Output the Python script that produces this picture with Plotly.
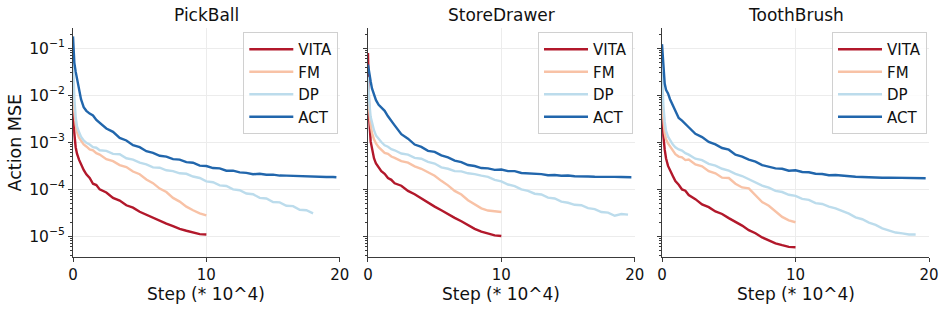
import plotly.graph_objects as go

# ---------------- data ----------------
STEPS = [0, 0.05, 0.1, 0.2, 0.3, 0.45, 0.6, 0.8, 1.0, 1.25, 1.5, 1.75,
         2.0, 2.5, 3.0, 3.5, 4.0, 4.5, 5.0, 5.5, 6.0, 6.5, 7.0, 7.5, 8.0,
         8.5, 9.0, 9.5, 10.0, 10.5, 11.0, 11.5, 12.0, 12.5, 13.0, 13.5,
         14.0, 14.5, 15.0, 15.5, 16.0, 16.5, 17.0, 17.5, 18.0, 18.5, 19.0,
         19.5, 19.75]

TASKS = ["PickBall", "StoreDrawer", "ToothBrush"]
METHODS = ["VITA", "FM", "DP", "ACT"]

# PickBall
VITA_PICKBALL = [1.0e-2, 3.2e-3, 1.58e-3, 7.9e-4, 5.75e-4, 4.3e-4, 3.4e-4, 2.6e-4, 2.1e-4,
                 1.75e-4, 1.32e-4, 1.24e-4, 1.0e-4, 8.6e-5, 6.6e-5, 5.8e-5, 4.6e-5, 4.1e-5,
                 3.35e-5, 2.9e-5, 2.45e-5, 2.2e-5, 1.88e-5, 1.66e-5, 1.45e-5, 1.32e-5,
                 1.2e-5, 1.12e-5, 1.1e-5]
FM_PICKBALL = [1.41e-2, 7.1e-3, 4.5e-3, 2.4e-3, 1.66e-3, 1.26e-3, 1.07e-3, 9.1e-4, 8.2e-4,
               7.1e-4, 6.8e-4, 5.9e-4, 5.5e-4, 4.4e-4, 4.0e-4, 3.3e-4, 3.0e-4, 2.4e-4,
               2.1e-4, 1.62e-4, 1.36e-4, 1.04e-4, 8.8e-5, 6.6e-5, 5.5e-5, 4.3e-5,
               3.6e-5, 3.1e-5, 2.8e-5]
DP_PICKBALL = [5.6e-2, 1.78e-2, 8.9e-3, 3.5e-3, 2.2e-3, 1.66e-3, 1.32e-3, 1.1e-3, 9.8e-4,
               9.0e-4, 7.9e-4, 7.7e-4, 6.8e-4, 6.6e-4, 5.7e-4, 5.6e-4, 4.6e-4, 4.3e-4,
               3.7e-4, 3.4e-4, 2.95e-4, 2.9e-4, 2.55e-4, 2.45e-4, 2.2e-4, 2.15e-4,
               1.88e-4, 1.75e-4, 1.48e-4, 1.42e-4, 1.22e-4, 1.18e-4, 1.0e-4, 9.6e-5,
               8.2e-5, 7.9e-5, 6.6e-5, 6.4e-5, 5.4e-5, 5.3e-5, 4.5e-5, 4.4e-5, 3.7e-5,
               3.6e-5, 3.1e-5]
ACT_PICKBALL = [1.8e-1, 8.9e-2, 5.0e-2, 3.2e-2, 2.2e-2, 1.32e-2, 8.3e-3, 5.6e-3, 4.7e-3,
                4.1e-3, 3.75e-3, 3.0e-3, 2.6e-3, 1.98e-3, 1.68e-3, 1.25e-3, 1.1e-3, 8.7e-4,
                7.9e-4, 6.5e-4, 6.0e-4, 5.2e-4, 5.0e-4, 4.4e-4, 4.3e-4, 3.8e-4, 3.7e-4,
                3.2e-4, 3.15e-4, 2.85e-4, 2.8e-4, 2.5e-4, 2.5e-4, 2.3e-4, 2.25e-4, 2.1e-4,
                2.15e-4, 2.05e-4, 2.06e-4, 1.97e-4, 1.96e-4, 1.93e-4, 1.92e-4, 1.88e-4,
                1.87e-4, 1.85e-4, 1.83e-4, 1.84e-4, 1.82e-4]

# StoreDrawer
VITA_STOREDRAWER = [8.0e-2, 1.45e-2, 3.0e-3, 1.05e-3, 7.6e-4, 4.6e-4, 3.55e-4, 2.9e-4, 2.45e-4,
                    2.15e-4, 1.74e-4, 1.6e-4, 1.35e-4, 1.2e-4, 9.3e-5, 7.9e-5, 6.4e-5, 5.4e-5,
                    4.3e-5, 3.6e-5, 2.95e-5, 2.48e-5, 2.1e-5, 1.76e-5, 1.45e-5, 1.27e-5,
                    1.15e-5, 1.05e-5, 1.02e-5]
FM_STOREDRAWER = [1.58e-2, 7.1e-3, 4.5e-3, 2.4e-3, 1.58e-3, 1.17e-3, 9.5e-4, 7.9e-4, 6.9e-4,
                  6.0e-4, 5.7e-4, 5.0e-4, 4.7e-4, 4.0e-4, 3.7e-4, 3.1e-4, 2.75e-4, 2.3e-4,
                  1.95e-4, 1.52e-4, 1.22e-4, 9.3e-5, 7.8e-5, 5.9e-5, 4.9e-5, 3.95e-5,
                  3.55e-5, 3.4e-5, 3.3e-5]
DP_STOREDRAWER = [2.5e-2, 1.12e-2, 7.1e-3, 3.5e-3, 2.5e-3, 1.82e-3, 1.41e-3, 1.17e-3, 1.02e-3,
                  8.7e-4, 8.1e-4, 7.2e-4, 6.8e-4, 5.8e-4, 5.5e-4, 4.7e-4, 4.5e-4, 3.85e-4,
                  3.55e-4, 2.95e-4, 2.75e-4, 2.45e-4, 2.42e-4, 2.2e-4, 2.12e-4, 1.96e-4,
                  1.85e-4, 1.6e-4, 1.48e-4, 1.27e-4, 1.17e-4, 1.0e-4, 9.3e-5, 8.1e-5,
                  7.8e-5, 6.7e-5, 6.4e-5, 5.5e-5, 5.2e-5, 4.7e-5, 4.6e-5, 4.0e-5, 3.8e-5,
                  3.3e-5, 3.2e-5, 2.75e-5, 3.0e-5, 2.9e-5]
ACT_STOREDRAWER = [4.5e-2, 3.5e-2, 2.8e-2, 2.0e-2, 1.41e-2, 1.07e-2, 7.9e-3, 6.3e-3, 5.4e-3,
                   4.7e-3, 3.6e-3, 2.8e-3, 2.3e-3, 1.5e-3, 1.2e-3, 9.0e-4, 8.0e-4, 6.6e-4,
                   6.3e-4, 5.3e-4, 4.8e-4, 4.1e-4, 3.8e-4, 3.3e-4, 3.15e-4, 2.85e-4, 2.8e-4,
                   2.6e-4, 2.65e-4, 2.45e-4, 2.45e-4, 2.24e-4, 2.2e-4, 2.1e-4, 2.12e-4,
                   2.0e-4, 2.02e-4, 1.95e-4, 1.97e-4, 1.9e-4, 1.92e-4, 1.88e-4, 1.86e-4,
                   1.87e-4, 1.84e-4, 1.85e-4, 1.83e-4, 1.82e-4, 1.82e-4]

# ToothBrush
VITA_TOOTHBRUSH = [1.0e-2, 3.2e-3, 1.41e-3, 7.1e-4, 4.6e-4, 3.16e-4, 2.5e-4, 1.95e-4, 1.5e-4,
                   1.26e-4, 1.0e-4, 9.4e-5, 7.6e-5, 6.2e-5, 4.8e-5, 4.2e-5, 3.4e-5, 3.0e-5,
                   2.45e-5, 2.05e-5, 1.7e-5, 1.36e-5, 1.17e-5, 9.5e-6, 8.2e-6, 7.1e-6,
                   6.5e-6, 6.0e-6, 5.9e-6]
FM_TOOTHBRUSH = [1.26e-2, 5.6e-3, 3.2e-3, 1.58e-3, 1.17e-3, 9.5e-4, 8.1e-4, 6.8e-4, 5.6e-4,
                 5.0e-4, 4.8e-4, 4.2e-4, 4.3e-4, 3.4e-4, 3.1e-4, 2.45e-4, 2.2e-4, 1.78e-4,
                 1.75e-4, 1.32e-4, 1.1e-4, 1.05e-4, 7.5e-5, 5.4e-5, 4.5e-5, 3.4e-5,
                 2.6e-5, 2.2e-5, 2.0e-5]
DP_TOOTHBRUSH = [3.2e-2, 1.26e-2, 6.3e-3, 2.8e-3, 1.78e-3, 1.32e-3, 1.1e-3, 9.1e-4, 7.9e-4,
                 7.1e-4, 6.7e-4, 5.9e-4, 5.5e-4, 4.5e-4, 4.2e-4, 3.5e-4, 3.2e-4, 2.75e-4,
                 2.5e-4, 2.15e-4, 1.93e-4, 1.64e-4, 1.44e-4, 1.2e-4, 1.09e-4, 9.3e-5,
                 8.8e-5, 7.7e-5, 7.3e-5, 6.3e-5, 6.0e-5, 5.1e-5, 4.9e-5, 4.3e-5, 3.95e-5,
                 3.45e-5, 3.05e-5, 2.55e-5, 2.32e-5, 1.97e-5, 1.76e-5, 1.49e-5, 1.36e-5,
                 1.21e-5, 1.16e-5, 1.1e-5, 1.1e-5]
ACT_TOOTHBRUSH = [1.23e-1, 6.3e-2, 3.5e-2, 1.78e-2, 1.32e-2, 1.1e-2, 8.3e-3, 6.3e-3, 4.7e-3,
                  3.3e-3, 2.9e-3, 2.4e-3, 2.1e-3, 1.52e-3, 1.3e-3, 1.02e-3, 9.1e-4, 7.6e-4,
                  7.0e-4, 5.5e-4, 5.0e-4, 4.3e-4, 3.9e-4, 3.3e-4, 3.05e-4, 2.8e-4, 2.75e-4,
                  2.5e-4, 2.55e-4, 2.35e-4, 2.32e-4, 2.15e-4, 2.12e-4, 2.0e-4, 2.02e-4,
                  1.95e-4, 1.93e-4, 1.86e-4, 1.84e-4, 1.8e-4, 1.79e-4, 1.77e-4, 1.78e-4,
                  1.76e-4, 1.75e-4, 1.76e-4, 1.74e-4, 1.73e-4, 1.73e-4]

SERIES = {
    "PickBall": [VITA_PICKBALL, FM_PICKBALL, DP_PICKBALL, ACT_PICKBALL],
    "StoreDrawer": [VITA_STOREDRAWER, FM_STOREDRAWER, DP_STOREDRAWER, ACT_STOREDRAWER],
    "ToothBrush": [VITA_TOOTHBRUSH, FM_TOOTHBRUSH, DP_TOOTHBRUSH, ACT_TOOTHBRUSH],
}

X_TICKS = [0, 10, 20]
Y_TICKS = [1e-1, 1e-2, 1e-3, 1e-4, 1e-5]
Y_TICK_TEXT = ["10<sup>−1</sup>", "10<sup>−2</sup>", "10<sup>−3</sup>",
               "10<sup>−4</sup>", "10<sup>−5</sup>"]

# ---------------- styling ----------------
COLORS = ["#b2182b", "#f8c2a6", "#bcdcec", "#2166ac"]
WIDTHS = [2.4, 2.4, 2.4, 2.4]
FONT = "DejaVu Sans"
AXIS_COLOR = "#3a3a3a"
GRID_COLOR = "#ececec"

W, H = 947, 310
ML, MR, MT, MB = 73, 18, 28, 53
PW = W - ML - MR
PH = H - MT - MB
DOMAINS = [[0.0, 0.3116], [0.3446, 0.6562], [0.6881, 1.0]]
YRANGE = [-5.438, -0.566]


def px_x(p):
    return (p - ML) / PW


def px_y(p):
    return (H - MB - p) / PH


fig = go.Figure()
legend_names = ["legend", "legend2", "legend3"]

for i, task in enumerate(TASKS):
    ax = "" if i == 0 else str(i + 1)
    for j, (name, vals) in enumerate(zip(METHODS, SERIES[task])):
        fig.add_trace(go.Scatter(
            x=STEPS[:len(vals)], y=vals, mode="lines", name=name,
            line=dict(color=COLORS[j], width=WIDTHS[j]),
            xaxis="x" + ax, yaxis="y" + ax,
            legend=legend_names[i], legendgroup=f"{task}-{name}",
        ))

    fig.layout["xaxis" + ax] = dict(
        domain=DOMAINS[i], anchor="y" + ax, range=[0, 20], automargin=False,
        tickvals=X_TICKS, ticks="outside", ticklen=4, tickwidth=1,
        tickcolor=AXIS_COLOR, showline=True, linecolor=AXIS_COLOR, linewidth=1,
        showgrid=True, gridcolor=GRID_COLOR, gridwidth=1, zeroline=False,
        tickfont=dict(family=FONT, size=15, color="#111"),
    )
    fig.layout["yaxis" + ax] = dict(
        domain=[0, 1], anchor="x" + ax, type="log", range=YRANGE, automargin=False,
        tickmode="array", tickvals=Y_TICKS, ticktext=Y_TICK_TEXT,
        ticks="outside", ticklen=4, tickwidth=1, tickcolor=AXIS_COLOR,
        minor=dict(ticks="outside", ticklen=2, tickwidth=1, tickcolor=AXIS_COLOR,
                   showgrid=False, dtick="D1"),
        showline=True, linecolor=AXIS_COLOR, linewidth=1,
        showgrid=True, gridcolor=GRID_COLOR, gridwidth=1, zeroline=False,
        showticklabels=(i == 0),
        tickfont=dict(family=FONT, size=15.5, color="#111"),
    )

    cx = (DOMAINS[i][0] + DOMAINS[i][1]) / 2
    fig.add_annotation(x=cx, y=px_y(15), xref="paper", yref="paper", text=task,
                       showarrow=False, font=dict(family=FONT, size=17, color="#111"),
                       xanchor="center", yanchor="middle")
    fig.add_annotation(x=cx, y=px_y(294), xref="paper", yref="paper", text="Step (* 10^4)",
                       showarrow=False, font=dict(family=FONT, size=17, color="#111"),
                       xanchor="center", yanchor="middle")

fig.add_annotation(x=px_x(14), y=0.5, xref="paper", yref="paper", text="Action MSE",
                   textangle=-90, showarrow=False,
                   font=dict(family=FONT, size=17.5, color="#111"),
                   xanchor="center", yanchor="middle")

LEG_LEFT = [243.3, 538, 832]
for i, lname in enumerate(legend_names):
    fig.layout[lname] = dict(
        x=px_x(LEG_LEFT[i]), y=px_y(32), xanchor="left", yanchor="top",
        xref="paper", yref="paper",
        bgcolor="rgba(255,255,255,0.85)", bordercolor="#d0d0d0", borderwidth=1,
        font=dict(family=FONT, size=15, color="#111"),
        tracegroupgap=3, traceorder="normal", itemwidth=44,
    )

fig.update_layout(
    width=W, height=H, margin=dict(l=ML, r=MR, t=MT, b=MB, autoexpand=False),
    paper_bgcolor="white", plot_bgcolor="white",
    font=dict(family=FONT, color="#111"),
)

fig.write_html("out.html", config={"displayModeBar": False},
               post_script="document.body.style.margin='0';")
